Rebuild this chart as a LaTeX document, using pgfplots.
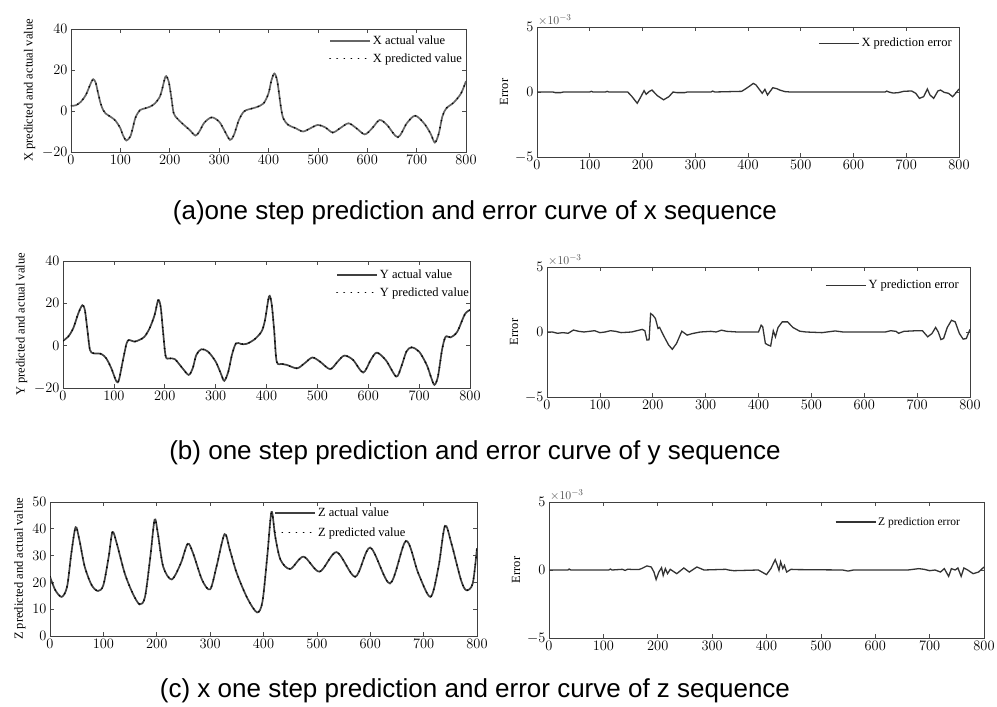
\documentclass[border=0pt]{standalone}
\usepackage{pgfplots}
\pgfplotsset{compat=1.18}
\usepackage{pgfplotstable}
\usepackage{fontspec}
\setmainfont{Liberation Serif}
\newfontfamily\capfont{Liberation Sans}

\pgfplotstableread{
x y
0 2.5
10 2.8
20 4.5
30 7.8
40 13.5
45 15.5
50 13.8
55 8.6
60 3.7
65 0.5
70 -1.2
80 -2.8
90 -4.7
100 -8.4
105 -11.7
112 -14.4
120 -12.5
125 -8.4
130 -3.6
135 -1.1
140 0.5
150 1.3
160 2.1
170 3.7
180 7.0
185 11
190 15.9
193 17.0
198 14.3
203 7.0
208 -1.1
215 -3.6
225 -6.0
240 -9.2
252 -12.0
260 -10
270 -5.7
285 -3.1
300 -5.2
310 -9.2
322 -14.1
330 -11.7
340 -4.4
350 -0.3
360 0.8
375 1.8
390 3.7
400 8.6
406 15
412 18.3
418 14.3
425 2.1
430 -3.6
440 -6.8
455 -8.4
470 -10
485 -8.4
500 -6.8
515 -8
530 -10.5
545 -8.4
562 -6.0
578 -8.4
595 -11.4
610 -8.4
625 -4.4
640 -6.8
662 -12.8
680 -6.0
697 -2.3
715 -6.0
728 -10.9
737 -15.4
745 -10.9
752 -2.8
760 1.3
775 4.1
790 8.6
800 14.6
}\xdata

\pgfplotstableread{
x y
0 2.3
10 4.2
20 8.1
30 15.2
38 19.1
43 16.8
48 7.4
53 -2
60 -3.6
75 -3.9
85 -6
95 -10.7
105 -16.9
110 -16.1
118 -6.7
125 1.1
130 2.7
140 1.9
150 2.7
160 4.2
170 8.1
180 14.4
187 21.5
192 18.3
197 5.8
202 -5.2
210 -6
220 -6.4
235 -10.7
247 -13.8
255 -10.7
262 -4.4
272 -1.7
285 -2.8
300 -7.5
310 -13
317 -16.6
325 -12.2
332 -4.4
340 1.1
350 0.8
360 0.8
375 2.7
390 6.6
397 12
405 23.3
410 19.9
415 7.4
420 -7.5
430 -8.6
440 -9.1
460 -10.7
475 -8.3
490 -5.6
505 -7.5
525 -11.1
540 -7.5
553 -4.7
570 -6.7
590 -12.7
605 -6.7
617 -3.3
635 -7
655 -14.6
665 -9.9
675 -2.8
685 -0.8
700 -2.8
715 -9.1
723 -14.6
730 -18.5
737 -14.6
745 -2
752 4.2
762 3.9
775 6.6
790 14.9
800 16.8
}\ydata

\pgfplotstableread{
x y
0 22.1
10 17.1
22 14.6
32 18.4
40 30.9
48 40.6
55 35.9
65 25.9
78 19
90 16.8
100 19
110 29.6
117 38.8
125 34.6
140 23.4
155 15.9
168 11.8
178 14.6
188 29.6
196 43.4
202 38.4
212 25.9
228 21.1
245 27.1
258 34.4
268 30.9
285 20.9
300 17.4
312 25.9
327 38
337 32.1
350 23.4
370 14
388 8.8
398 12.8
407 29.6
415 46.3
422 37.1
432 28.4
450 25
475 29.6
505 24
537 31.3
572 22.1
600 33
637 19.6
667 35.5
690 23.4
713 14.6
728 25.9
740 41.1
752 34.6
770 20.9
780 17.1
792 19.6
800 32.8
}\zdata

\pgfplotstableread{
x y
0 0
30 0
35 -0.05
45 -0.05
50 0
100 0
103 0.05
106 0
130 0
133 0.05
136 0
172 0
180 -0.35
190 -0.87
197 -0.36
203 0.1
207 -0.18
213 0.05
218 0.15
228 -0.28
240 -0.6
250 -0.36
258 0
265 -0.05
280 -0.05
285 0
330 0
333 0.07
337 0
388 0.05
395 0.23
403 0.45
410 0.66
415 0.55
420 0.28
427 -0.1
432 0.2
437 -0.23
442 0.05
447 0.33
455 0.25
460 0.15
470 0.03
480 0
660 0
663 0.07
667 0
675 -0.08
685 -0.05
695 0.05
710 0.08
718 -0.1
725 -0.49
733 -0.36
740 0.23
745 -0.23
752 -0.49
760 0.08
765 0.15
772 -0.03
780 -0.1
788 -0.36
795 -0.03
800 0.23
}\xerr

\pgfplotstableread{
x y
0 0
10 0
20 -0.1
30 -0.05
40 -0.1
50 0.15
60 0.05
70 0
80 0.05
90 0.1
100 -0.05
110 0
120 0.1
130 0.05
140 -0.05
160 0
175 0.15
180 0.2
185 0.1
189 -0.62
193 -0.6
196 1.42
200 1.3
205 1.04
210 0.27
213 0.35
220 -0.24
230 -1.0
237 -1.33
245 -0.88
255 0.06
265 -0.24
275 -0.12
290 0
310 0.05
320 0
330 0.14
340 0.05
360 0
400 0
405 0.52
408 0.4
413 -0.88
418 -1.0
423 -1.08
428 0.09
432 -0.37
437 0.35
445 0.78
455 0.78
465 0.35
478 0.06
490 0
520 -0.05
545 0.08
560 0
640 0
650 0.1
660 0.05
665 -0.1
675 0.05
700 0.1
710 0.1
720 -0.37
728 -0.12
735 0.35
740 0
745 -0.58
750 -0.5
757 0.35
765 0.9
772 0.78
780 -0.12
787 -0.55
793 -0.5
800 0.2
}\yerr

\pgfplotstableread{
x y
0 0
35 0
37 0.07
40 0
110 0
113 0.07
116 0
135 0.05
140 -0.03
145 0.06
155 0.03
165 0.03
170 0.1
180 0.3
188 0.22
193 -0.15
197 -0.7
202 -0.15
207 0.17
210 -0.4
214 0.1
218 -0.27
223 0.05
235 -0.27
248 0.15
258 -0.15
272 0.22
285 0
325 0.05
330 0
340 -0.05
385 0
400 -0.34
408 0.1
416 0.76
420 0.34
423 -0.02
426 0.6
430 0.1
433 0.34
437 -0.15
445 0.05
455 0.03
540 0
550 -0.08
560 0
660 0
670 0.05
680 0.1
690 0.05
700 -0.05
710 0
720 -0.15
727 0.1
735 -0.47
740 0.1
747 0
752 0.15
758 -0.47
763 0.15
770 0
780 -0.27
790 -0.15
800 0.22
}\zerr

\pgfplotsset{
  base/.style={
    scale only axis, anchor=south west,
    xmin=0, xmax=800, xtick={0,100,...,800},
    tick align=inside, tick pos=both,
    axis line style={draw=black!75, line width=0.8pt},
    major tick length=4pt,
    tick style={black!70, line width=0.7pt},
    ticklabel style={font=\fontsize{14.5}{14.5}\selectfont},
    clip mode=individual,
    legend cell align=left,
    legend style={draw=none, fill=none, font=\fontsize{12.5}{14}\selectfont, row sep=3pt, inner sep=1pt},
    legend image code/.code={\draw[##1] (0pt,0pt) -- (40pt,0pt);},
    ylabel style={font=\fontsize{12.5}{14}\selectfont},
  },
  errax/.style={base, ymin=-5, ymax=5, ytick={-5,0,5}, ylabel={Error}},
  act/.style={black!60, line width=1.7pt, smooth},
  pred/.style={black, line width=1.8pt, dash pattern=on 0.1pt off 7pt, line cap=round, smooth},
  err/.style={black!80, line width=1.3pt},
}
\newcommand{\expo}{\node[anchor=south west, inner sep=1pt, font=\fontsize{13}{13}\selectfont, text=black!70] at (rel axis cs:0,1) {$\times 10^{-3}$};}

\begin{document}
\begin{tikzpicture}
\path[use as bounding box] (0,0) rectangle (997pt,707pt);

% (a) left
\begin{axis}[base, at={(71pt,555pt)}, width=395pt, height=123pt,
  ymin=-20, ymax=40, ytick={-20,0,20,40},
  ylabel={X predicted and actual value},
  legend style={at={(1,1)}, anchor=north east, xshift=-1pt, yshift=-4pt}]
\addplot[act] table {\xdata};
\addlegendentry{X actual value}
\addplot[pred] table {\xdata};
\addlegendentry{X predicted value}
\end{axis}

% (a) right
\begin{axis}[errax, at={(537pt,550pt)}, width=422pt, height=130pt,
  legend style={at={(1,1)}, anchor=north east, xshift=-4pt, yshift=-8pt}]
\addplot[err] table {\xerr};
\addlegendentry{X prediction error}
\expo
\end{axis}

% (b) left
\begin{axis}[base, at={(63pt,319pt)}, width=407pt, height=127pt,
  ymin=-20, ymax=40, ytick={-20,0,20,40},
  ylabel={Y predicted and actual value},
  legend style={at={(1,1)}, anchor=north east, xshift=2pt, yshift=-6pt}]
\addplot[act, black!75] table {\ydata};
\addlegendentry{Y actual value}
\addplot[pred] table {\ydata};
\addlegendentry{Y predicted value}
\end{axis}

% (b) right
\begin{axis}[errax, at={(547pt,310pt)}, width=423pt, height=130pt,
  legend style={at={(1,1)}, anchor=north east, xshift=-8pt, yshift=-10pt}]
\addplot[err] table {\yerr};
\addlegendentry{Y prediction error}
\expo
\end{axis}

% (c) left
\begin{axis}[base, at={(50pt,71pt)}, width=427pt, height=134pt,
  ymin=0, ymax=50, ytick={0,10,...,50},
  ylabel={Z predicted and actual value},
  legend style={at={(0.84,1)}, anchor=north east, yshift=-3pt, row sep=5pt}]
\addplot[act, black!75] table {\zdata};
\addlegendentry{Z actual value}
\addplot[pred] table {\zdata};
\addlegendentry{Z predicted value}
\end{axis}

% (c) right
\begin{axis}[errax, at={(549pt,69pt)}, width=435pt, height=136pt,
  legend style={at={(0.952,1)}, anchor=north east, yshift=-12pt, font=\fontsize{11.5}{13}\selectfont}]
\addplot[err] table {\zerr};
\addlegendentry{Z prediction error}
\expo
\end{axis}

\node[font=\capfont\fontsize{26}{26}\selectfont] at (475pt,494pt) {(a)one step prediction and error curve of x sequence};
\node[font=\capfont\fontsize{26}{26}\selectfont] at (475pt,254pt) {(b) one step prediction and error curve of y sequence};
\node[font=\capfont\fontsize{26}{26}\selectfont] at (475pt,16pt) {(c) x one step prediction and error curve of z sequence};
\end{tikzpicture}
\end{document}
